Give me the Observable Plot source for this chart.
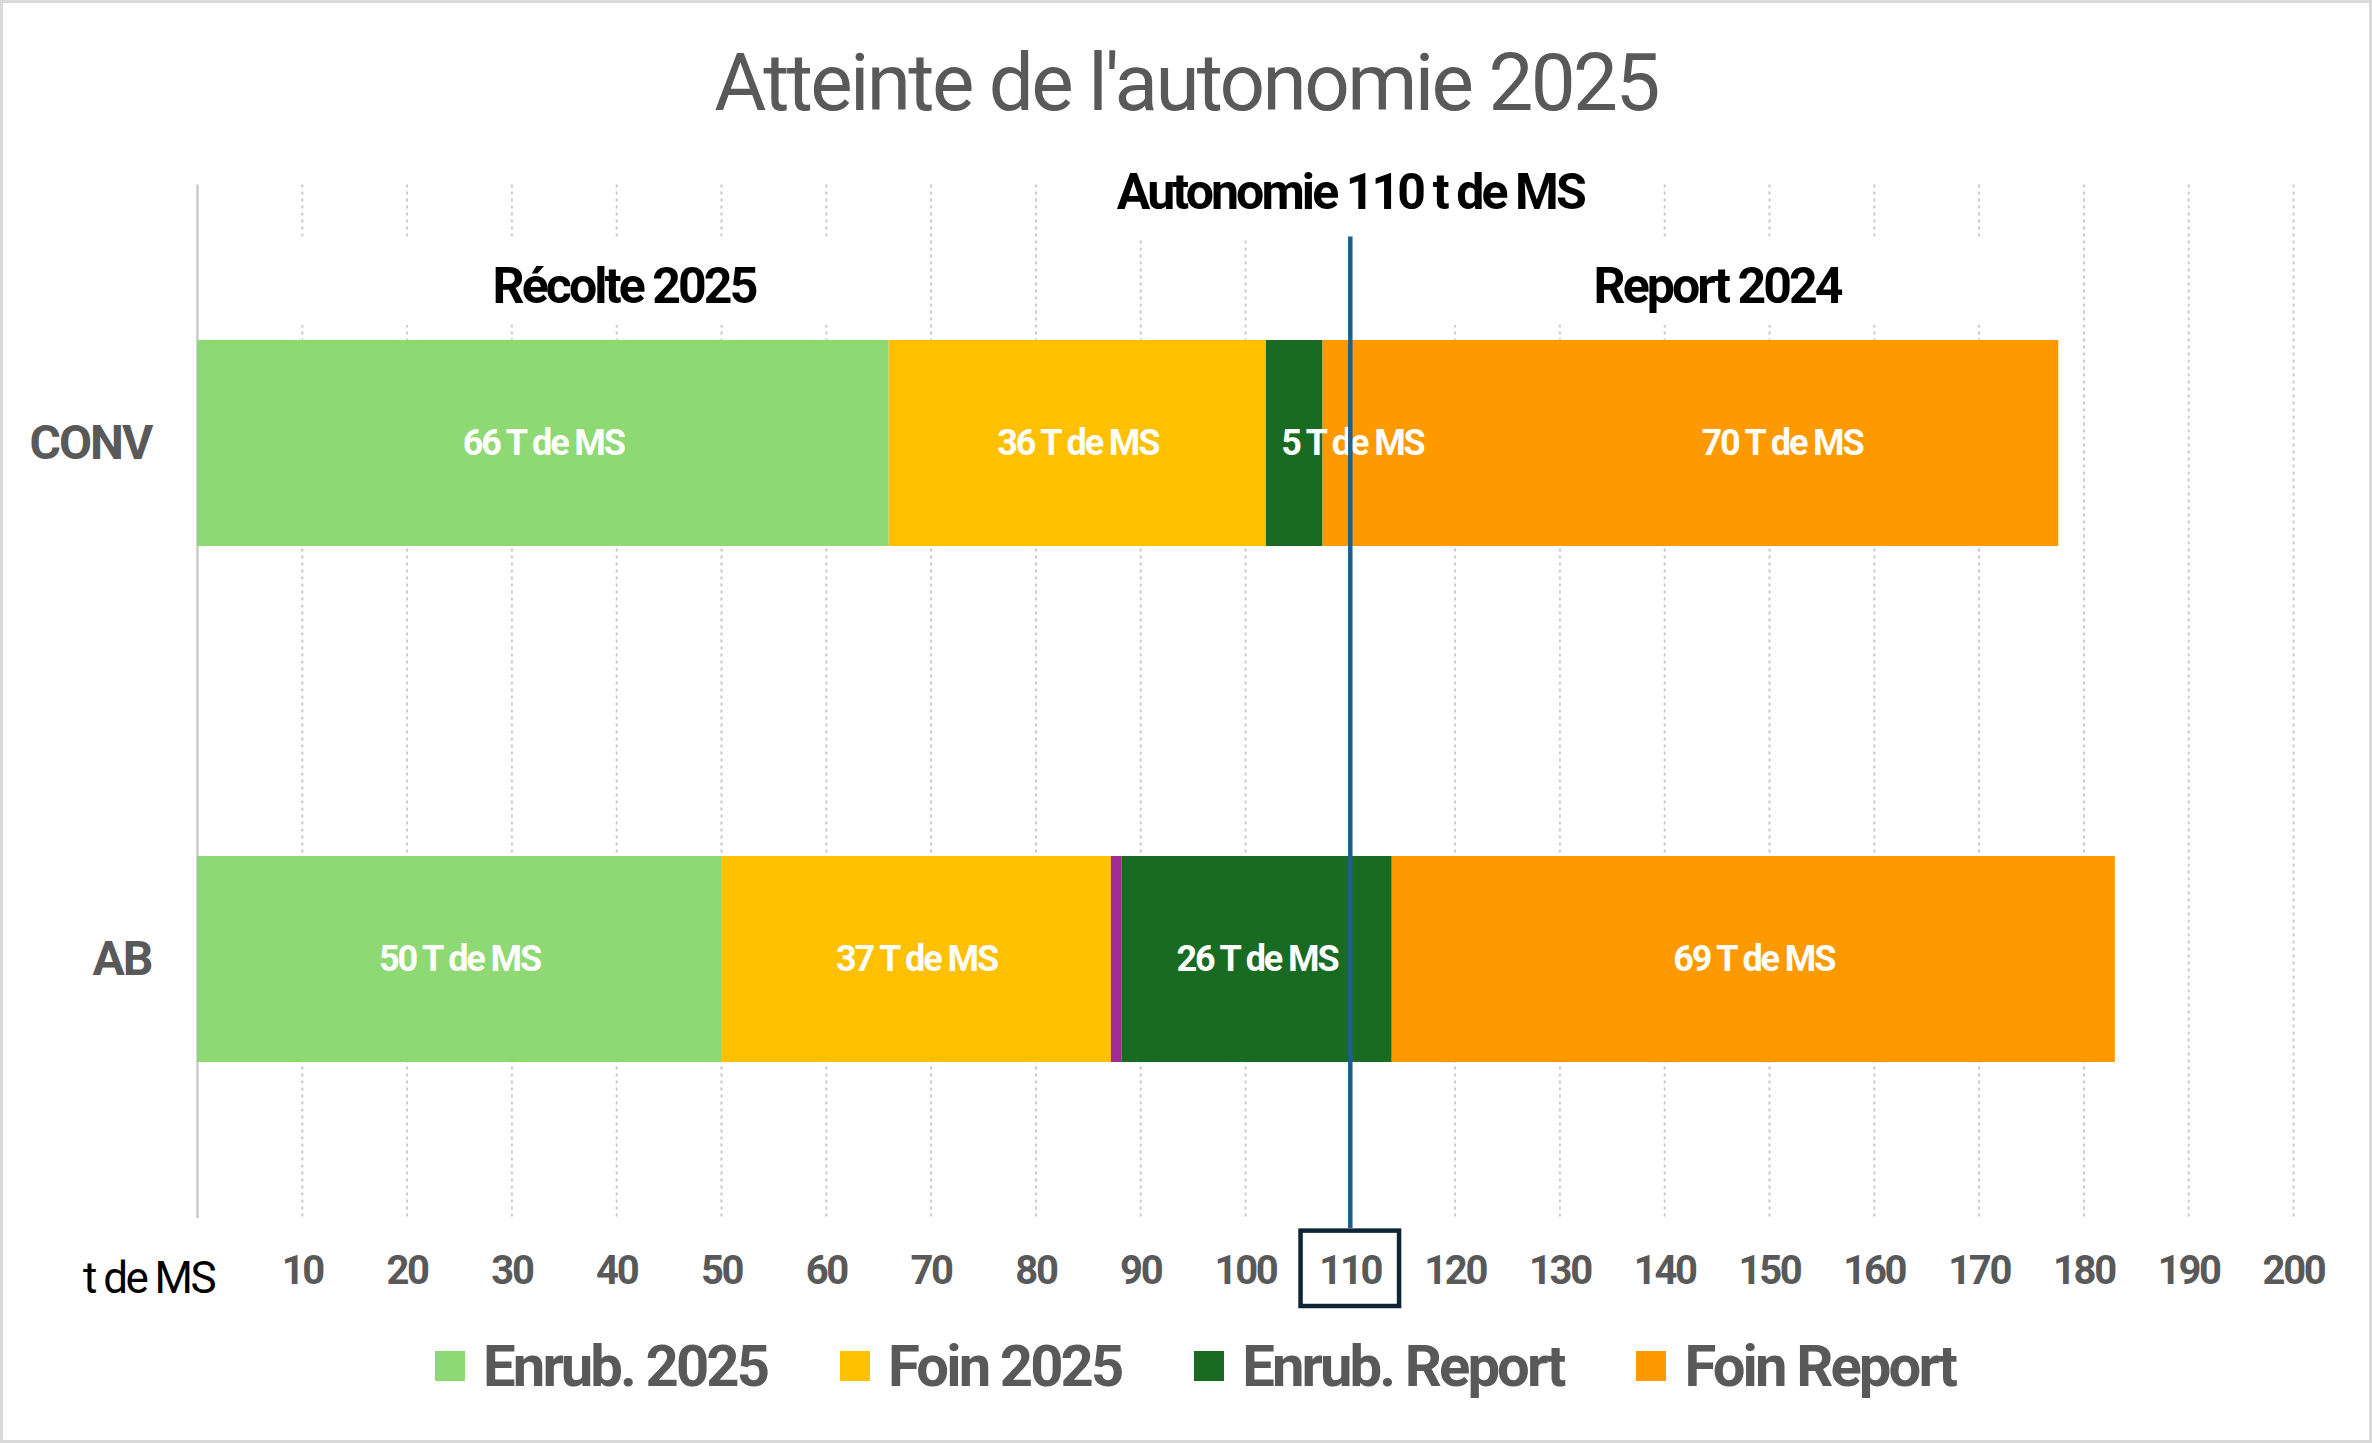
<!DOCTYPE html>
<html><head><meta charset="utf-8">
<script src="https://cdn.jsdelivr.net/npm/d3@7"></script>
<script src="https://cdn.jsdelivr.net/npm/@observablehq/plot@0.6"></script>
<style>
body{margin:0;background:#fff;}
#wrap{position:relative;width:2372px;height:1443px;overflow:hidden;background:#fff;font-family:Roboto,sans-serif;}
#border{position:absolute;left:0;top:0;right:0;bottom:0;border:3px solid #d9d9d9;pointer-events:none;}
#title{position:absolute;left:0;right:0;top:38px;text-align:center;font-size:80px;line-height:90px;color:#595959;letter-spacing:-0.033em;}
#chart{position:absolute;left:0;top:0;}
#legend{position:absolute;left:18px;right:0;top:1331px;height:70px;display:flex;justify-content:center;align-items:center;gap:73px;}
.item{display:flex;align-items:center;gap:18px;font-size:58px;font-weight:bold;color:#595959;letter-spacing:-0.05em;}
.sw{width:30px;height:30px;display:inline-block;}
</style></head>
<body>
<div id="wrap">
  <div id="chart"></div>
  <div id="title">Atteinte de l'autonomie 2025</div>
  <div id="legend"></div>
  <div id="border"></div>
</div>
<script>
// ---- data ----
const categories = ["CONV", "AB"];
const seriesNames = ["Enrub. 2025", "Foin 2025", "Autre", "Enrub. Report", "Foin Report"];
const convValues = [66, 36, 0, 5.4, 70.2];
const abValues = [50, 37.2, 1.0, 25.8, 69];
const seriesColors = ["#8ed973", "#ffc000", "#a02b93", "#196b24", "#ff9900"];
const legendSeries = ["Enrub. 2025", "Foin 2025", "Enrub. Report", "Foin Report"];
const xTicks = [10, 20, 30, 40, 50, 60, 70, 80, 90, 100, 110, 120, 130, 140, 150, 160, 170, 180, 190, 200];
const autonomie = 110;
const convLabelShift = [0, 0, 0, 5.5, 8.7];
const abLabelShift = [0, 0, 0, 0, 0];
const sections = [
  {text: "Récolte 2025", x: 40.7, x1: 5, x2: 65},
  {text: "Report 2024", x: 145, x1: 115, x2: 175}
];

// ---- table ----
const rows = [];
const labels = [];
[[categories[0], convValues, convLabelShift], [categories[1], abValues, abLabelShift]].forEach(([cat, vals, shift]) => {
  let acc = 0;
  vals.forEach((v, i) => {
    if (v > 0) {
      rows.push({category: cat, series: seriesNames[i], value: v});
      if (seriesNames[i] !== "Autre") labels.push({category: cat, x: acc + v / 2 + shift[i], text: Math.round(v) + " T de MS"});
    }
    acc += v;
  });
});

const chart = Plot.plot({
  width: 2372,
  height: 1443,
  marginTop: 184.6,
  marginBottom: 225,
  marginLeft: 197,
  marginRight: 79,
  style: {fontFamily: "Roboto, sans-serif", background: "transparent", overflow: "visible"},
  x: {domain: [0, 200], axis: null},
  y: {domain: categories, axis: null, paddingInner: 0.6, paddingOuter: 0.3},
  color: {domain: seriesNames, range: seriesColors},
  marks: [
    Plot.ruleX(xTicks, {stroke: "#c9c9c9", strokeWidth: 2, strokeDasharray: "3,4"}),
    Plot.ruleX([0], {stroke: "#c9c9c9", strokeWidth: 2.5}),
    Plot.rect(sections, {x1: "x1", x2: "x2", fill: "white", insetTop: 52, insetBottom: 893}),
    Plot.rect([autonomie], {x1: d => d - 25, x2: d => d + 25, fill: "white", insetTop: -1, insetBottom: 981}),
    Plot.barX(rows, {x: "value", y: "category", fill: "series"}),
    Plot.text(labels, {x: "x", y: "category", text: "text", fill: "white", fontWeight: "bold", fontSize: 36}),
    Plot.ruleX([autonomie], {stroke: "#1d5f8a", strokeWidth: 4.5, insetTop: 52, insetBottom: -10}),
    Plot.text(sections, {x: "x", text: "text", frameAnchor: "top", dy: 102, lineAnchor: "middle", fontWeight: "bold", fontSize: 50, fill: "black"}),
    Plot.text([autonomie], {x: d => d, text: d => "Autonomie " + d + " t de MS", frameAnchor: "top", dy: 8, lineAnchor: "middle", fontWeight: "bold", fontSize: 50, fill: "black"}),
    Plot.text(categories, {y: d => d, text: d => d, frameAnchor: "left", dx: -46, textAnchor: "end", fontWeight: "bold", fontSize: 48, fill: "#595959"}),
    Plot.text(xTicks, {x: d => d, text: d => String(d), frameAnchor: "bottom", dy: 53, lineAnchor: "middle", fontWeight: "bold", fontSize: 40, fill: "#595959"}),
    Plot.text(["t de MS"], {text: d => d, frameAnchor: "bottom-left", dx: -49, dy: 60, lineAnchor: "middle", textAnchor: "middle", fontSize: 44, fill: "black"}),
    Plot.rect([autonomie], {x1: d => d - 4.7, x2: d => d + 4.7, fill: "none", stroke: "#0e2535", strokeWidth: 4.5, insetTop: 1046, insetBottom: -88})
  ]
});
// condensed look: tighten letter spacing of text marks
chart.querySelectorAll("g[font-size]").forEach(g => {
  const fs = +g.getAttribute("font-size");
  const k = fs === 48 ? 0.04 : 0.058;
  g.style.letterSpacing = (-k * fs).toFixed(2) + "px";
});
document.getElementById("chart").appendChild(chart);

const legend = document.getElementById("legend");
legendSeries.forEach(s => {
  const item = document.createElement("div");
  item.className = "item";
  const sw = document.createElement("span");
  sw.className = "sw";
  sw.style.background = seriesColors[seriesNames.indexOf(s)];
  const t = document.createElement("span");
  t.textContent = s;
  item.appendChild(sw); item.appendChild(t);
  legend.appendChild(item);
});
</script>
</body></html>
